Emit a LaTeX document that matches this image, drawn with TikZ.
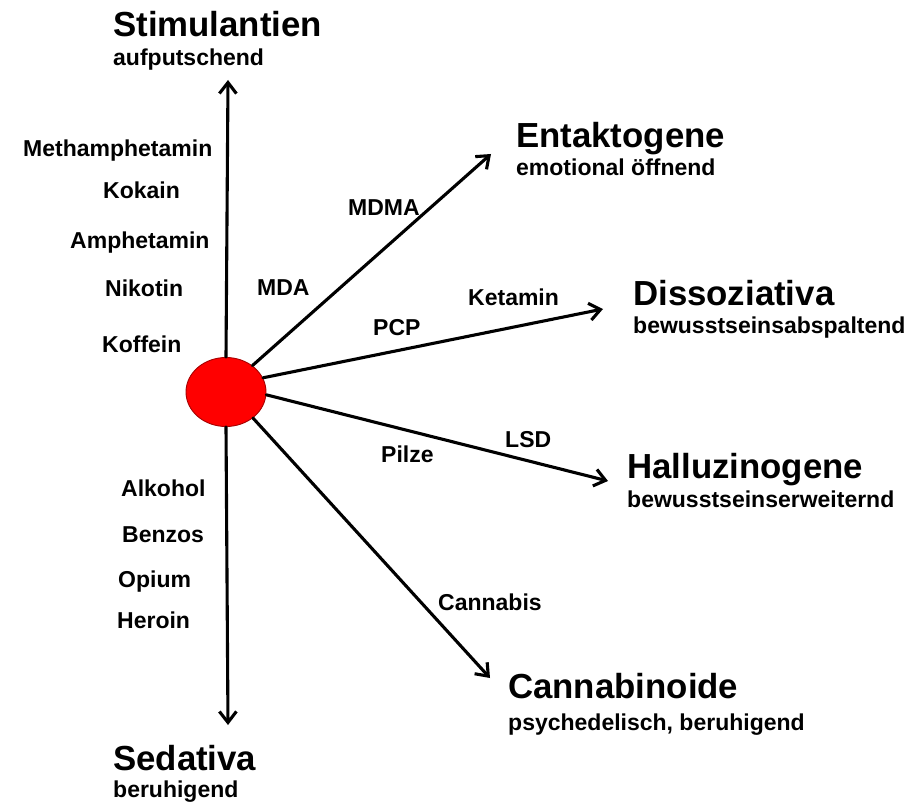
\documentclass[tikz,border=0pt]{standalone}
\usepackage{fontspec}
\setmainfont{Liberation Sans}
\usetikzlibrary{arrows.meta,shapes.geometric}

\tikzset{
  hub/.style={ellipse, draw=red!65!black, line width=0.9pt, fill=red,
    minimum width=80pt, minimum height=69pt, inner sep=0pt},
  ray/.style={line width=3.1pt, line cap=round,
    -{Straight Barb[length=11pt, width=17pt]}},
  classname/.style={anchor=base west, inner sep=0pt,
    font=\fontsize{34.8}{40}\selectfont\bfseries},
  classnote/.style={anchor=base west, inner sep=0pt,
    font=\fontsize{23}{27}\selectfont\bfseries},
  drug/.style={anchor=base west, inner sep=0pt,
    font=\fontsize{23}{27}\selectfont\bfseries}
}

\begin{document}
\begin{tikzpicture}[x=1pt, y=-1pt]
  \useasboundingbox (0,0) rectangle (913,805);

  % central hub
  \node[hub] (c) at (226,392) {};

  % arrow tips
  \coordinate (tUp)   at (228,80);
  \coordinate (tDown) at (228,725);
  \coordinate (tEnt)  at (491,154);
  \coordinate (tDis)  at (603,309);
  \coordinate (tHal)  at (608,481);
  \coordinate (tCan)  at (490,678);

  % rays
  \draw[ray] (c.north) -- (tUp);
  \draw[ray] (c.south) -- (tDown);
  \draw[ray] (c.45)  -- (tEnt);
  \draw[ray] (c.21)  -- (tDis);
  \draw[ray] (c.356) -- (tHal);
  \draw[ray] (c.316) -- (tCan);

  % classes
  \node[classname] (stim) at (113,37)  {Stimulantien};
  \node[classnote] (stimN) at (113,66) {aufputschend};
  \node[classname] (ent)  at (516,148) {Entaktogene};
  \node[classnote] (entN) at (516,176) {emotional öffnend};
  \node[classname] (dis)  at (633,305) {Dissoziativa};
  \node[classnote] (disN) at (633,333) {bewusstseinsabspaltend};
  \node[classname] (hal)  at (627,478) {Halluzinogene};
  \node[classnote] (halN) at (627,507) {bewusstseinserweiternd};
  \node[classname] (can)  at (508,698) {Cannabinoide};
  \node[classnote] (canN) at (508,730) {psychedelisch, beruhigend};
  \node[classname] (sed)  at (113,770) {Sedativa};
  \node[classnote] (sedN) at (113,797) {beruhigend};

  % substances
  \node[drug] (meth) at (23,157)  {Methamphetamin};
  \node[drug] (kok)  at (103,199) {Kokain};
  \node[drug] (amph) at (70,248)  {Amphetamin};
  \node[drug] (nik)  at (105,296) {Nikotin};
  \node[drug] (kof)  at (102,352) {Koffein};
  \node[drug] (alk)  at (121,496) {Alkohol};
  \node[drug] (ben)  at (122,542) {Benzos};
  \node[drug] (opi)  at (118,587) {Opium};
  \node[drug] (her)  at (117,628) {Heroin};
  \node[drug] (mdma) at (348,215) {MDMA};
  \node[drug] (mda)  at (257,295) {MDA};
  \node[drug] (ket)  at (468,305) {Ketamin};
  \node[drug] (pcp)  at (373,335) {PCP};
  \node[drug] (lsd)  at (505,447) {LSD};
  \node[drug] (pil)  at (381,462) {Pilze};
  \node[drug] (cbs)  at (438,610) {Cannabis};
\end{tikzpicture}
\end{document}
